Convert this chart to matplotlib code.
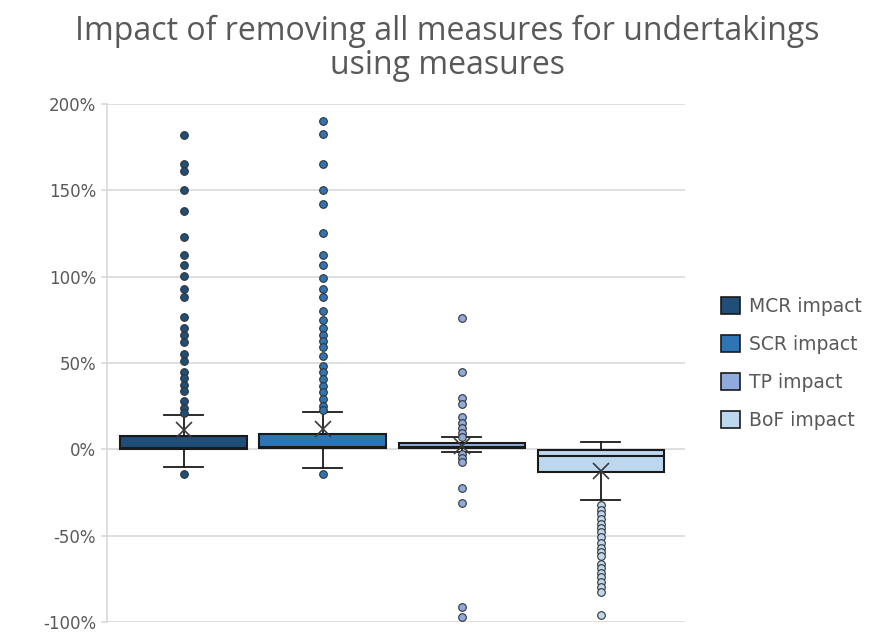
import matplotlib
matplotlib.use("Agg")
import matplotlib.pyplot as plt
from matplotlib.patches import Patch
from matplotlib.ticker import PercentFormatter

plt.rcParams["axes.unicode_minus"] = False

# Data (percent)
labels = ["MCR impact", "SCR impact", "TP impact", "BoF impact"]
q1 = [0.3, 1.0, 0.6, -13.1]
medians = [0.8, 1.5, 1.5, -3.8]
q3 = [7.7, 8.7, 3.5, -0.4]
whisker_low = [-10.2, -11.0, -1.3, -29.5]
whisker_high = [19.7, 21.8, 7.1, 4.2]
means = [11.0, 12.0, 2.0, -12.5]

mcr_outliers = [182, 165, 161, 150, 138, 123, 112.5, 107, 100.5, 93, 88.5, 76.5,
                70, 66.5, 62, 55, 51, 45, 41.5, 37.5, 33.5, 28, 24, 21, -14]
scr_outliers = [190, 182.5, 165.5, 150, 142, 125, 112.5, 107, 99, 93, 88.5, 80,
                75, 70, 66.5, 62.5, 59, 54, 48, 44.5, 40.5, 36.5, 33, 29, 25, 22.5, -14]
tp_outliers = [76, 45, 30, 26, 18.5, 15.5, 12.5, 9.5, 7, -2.5, -5, -7.5,
               -22.5, -31, -91.5, -97]
bof_outliers = [-32.5, -35, -37.5, -40.5, -43, -45.5, -48, -51, -54, -57, -59.5,
                -62, -66.5, -69, -71.5, -74, -77, -80, -82.5, -96]
outliers = [mcr_outliers, scr_outliers, tp_outliers, bof_outliers]

COLORS = ["#1F4E79", "#2E75B6", "#8FAADC", "#BDD7EE"]
EDGE = "#1a1a1a"
GRID = "#d9d9d9"
TEXT = "#595959"

fig = plt.figure(figsize=(8.8, 6.42), dpi=100)
fig.patch.set_facecolor("white")
ax = fig.add_axes([107 / 880, 1 - 622 / 642, (685 - 107) / 880, (622 - 104) / 642])

positions = [1, 2, 3, 4]
for i in range(len(labels)):
    stats = [dict(q1=q1[i], med=medians[i], q3=q3[i], whislo=whisker_low[i],
                  whishi=whisker_high[i], mean=means[i], fliers=outliers[i],
                  label=labels[i])]
    ax.bxp(
        stats,
        positions=[positions[i]],
        widths=0.91,
        patch_artist=True,
        showmeans=True,
        boxprops=dict(facecolor=COLORS[i], edgecolor=EDGE, linewidth=1.5),
        medianprops=dict(color=EDGE, linewidth=1.5),
        whiskerprops=dict(color=EDGE, linewidth=1.3),
        capprops=dict(color=EDGE, linewidth=1.3),
        capwidths=0.28,
        meanprops=dict(marker="x", markersize=12, markeredgecolor="#3a3a3a",
                       markeredgewidth=1.2),
        flierprops=dict(marker="o", markersize=5.5, markerfacecolor=COLORS[i],
                        markeredgecolor="#333333", markeredgewidth=0.8),
        zorder=3,
    )

ax.set_xlim(0.449, 4.605)
ax.set_ylim(-100, 200)
ax.set_yticks([-100, -50, 0, 50, 100, 150, 200])
ax.yaxis.set_major_formatter(PercentFormatter(decimals=0))
ax.set_xticks([])
ax.grid(axis="y", color=GRID, linewidth=1.2, zorder=0)
ax.set_axisbelow(True)
for side in ["top", "right", "bottom"]:
    ax.spines[side].set_visible(False)
ax.spines["left"].set_color(GRID)
ax.spines["left"].set_linewidth(1.2)
ax.tick_params(axis="y", colors=GRID, length=4, width=1.2, labelcolor=TEXT,
               labelsize=12, pad=4)

fig.text(447 / 880, 1 - 31 / 642, "Impact of removing all measures for undertakings",
         ha="center", va="center", fontsize=23, color=TEXT, family="Open Sans")
fig.text(447 / 880, 1 - 65 / 642, "using measures",
         ha="center", va="center", fontsize=23, color=TEXT, family="Open Sans")

handles = [Patch(facecolor=c, edgecolor=EDGE, linewidth=1.2) for c in COLORS]
fig.legend(handles, labels, loc="center left", bbox_to_anchor=(721 / 880, 1 - 363.5 / 642),
           frameon=False, fontsize=13.5, labelcolor=TEXT, handlelength=1.0,
           handleheight=1.0, handletextpad=0.5, labelspacing=1.02,
           borderpad=0, borderaxespad=0)

fig.savefig("out.png", dpi=100, facecolor="white")
